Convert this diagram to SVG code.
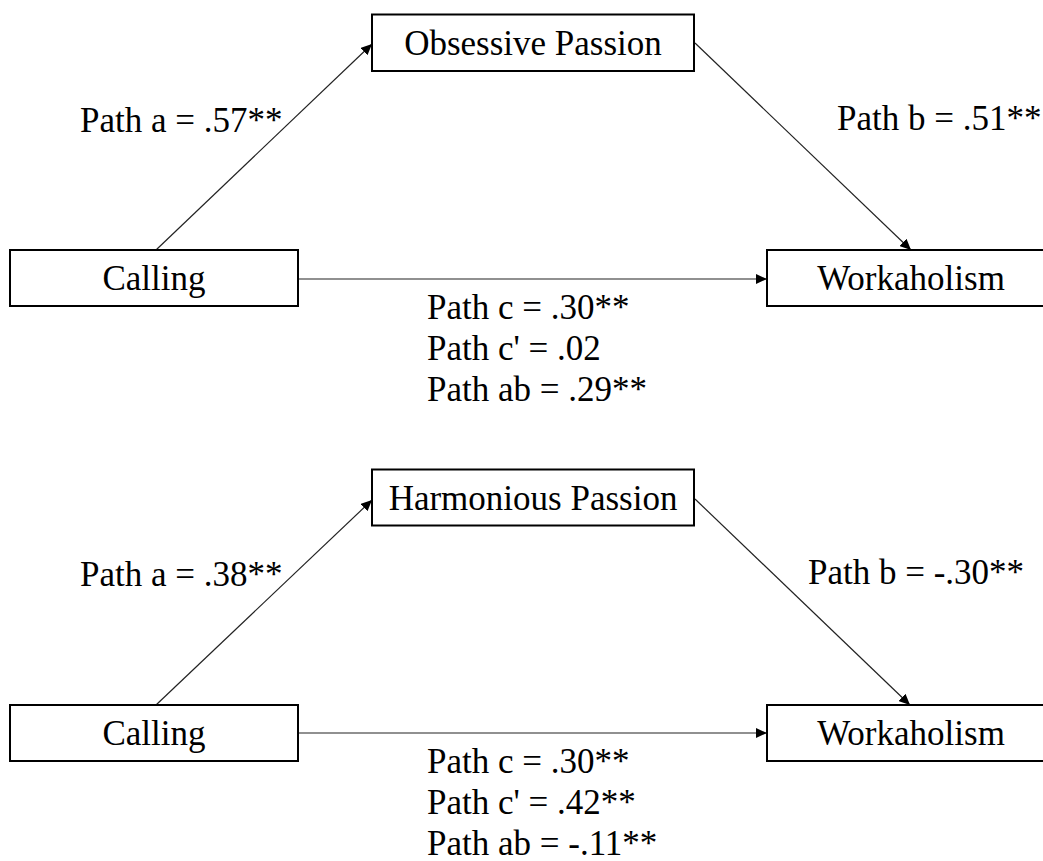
<svg xmlns="http://www.w3.org/2000/svg" width="1043" height="861" viewBox="0 0 1043 861">
<style>
.box{fill:#fff;stroke:#000;stroke-width:2}
.lbl{font-family:"Liberation Serif","Times New Roman",serif;font-size:35px;fill:#000}
.mid{text-anchor:middle}
.edge{stroke:#222;stroke-width:1.2;fill:none;marker-end:url(#ah)}
</style>
<defs>
<marker id="ah" markerUnits="userSpaceOnUse" markerWidth="12" markerHeight="10" refX="11" refY="5" orient="auto">
<path d="M0,0 L11,5 L0,10 z" fill="#000"/>
</marker>
</defs>
<rect width="1043" height="861" fill="#fff"/>
<g id="connectors">
<line class="edge" x1="156" y1="250" x2="372" y2="44"/>
<line class="edge" x1="695" y1="43" x2="911" y2="250"/>
<line class="edge" x1="298" y1="279" x2="767" y2="279"/>
<line class="edge" x1="156" y1="705" x2="372" y2="500"/>
<line class="edge" x1="695" y1="499" x2="910" y2="705"/>
<line class="edge" x1="298" y1="733" x2="767" y2="733"/>
</g>
<g id="calling1"><rect class="box" x="10" y="250" width="288" height="56"/><text class="lbl mid" x="154" y="290">Calling</text></g>
<g id="op"><rect class="box" x="372" y="14.5" width="322" height="56.5"/><text class="lbl mid" x="533" y="54.5">Obsessive Passion</text></g>
<g id="work1"><rect class="box" x="767" y="250" width="289" height="56"/><text class="lbl mid" x="911" y="290">Workaholism</text></g>
<g id="calling2"><rect class="box" x="10" y="705" width="288" height="56"/><text class="lbl mid" x="154" y="745">Calling</text></g>
<g id="hp"><rect class="box" x="372" y="469.5" width="322" height="56"/><text class="lbl mid" x="533" y="509.5">Harmonious Passion</text></g>
<g id="work2"><rect class="box" x="767" y="705" width="289" height="56"/><text class="lbl mid" x="911" y="745">Workaholism</text></g>
<g id="labels">
<text class="lbl" x="80" y="132">Path a = .57**</text>
<text class="lbl" x="837" y="130">Path b = .51**</text>
<text class="lbl" x="427" y="319">Path c = .30**</text>
<text class="lbl" x="427" y="360">Path c' = .02</text>
<text class="lbl" x="427" y="401">Path ab = .29**</text>
<text class="lbl" x="80" y="586">Path a = .38**</text>
<text class="lbl" x="808" y="584">Path b = -.30**</text>
<text class="lbl" x="427" y="773">Path c = .30**</text>
<text class="lbl" x="427" y="814">Path c' = .42**</text>
<text class="lbl" x="427" y="855">Path ab = -.11**</text>
</g>
</svg>
